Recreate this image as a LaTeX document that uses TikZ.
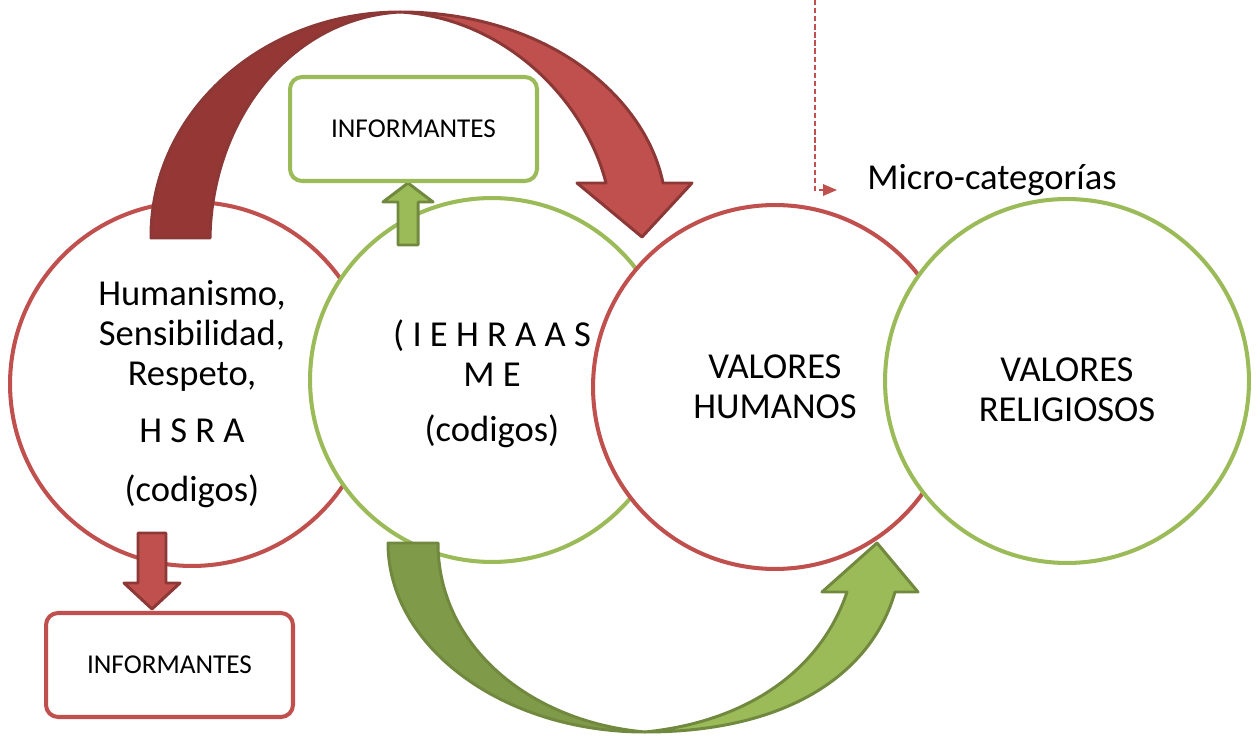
\documentclass[tikz,border=0pt]{standalone}
\usepackage{fontspec}
\setmainfont{Carlito}
\usetikzlibrary{positioning}
\usetikzlibrary {arrows.meta}
\definecolor{ringred}{HTML}{C0504D}
\definecolor{ringgreen}{HTML}{9BBB59}
\definecolor{darkred}{HTML}{953735}
\definecolor{rededge}{HTML}{8C3836}
\definecolor{darkgreen}{HTML}{7F9A48}
\definecolor{greenedge}{HTML}{71893F}
\tikzset{valring/.style={circle,fill=white,line width=2.3pt,
inner sep=0pt,minimum size=7.28cm,align=center,
font=\fontsize{20.8}{22.7}\selectfont}}
\tikzset{infobox/.style={rectangle,rounded corners=0.24cm,fill=white,line width=2.3pt,
inner sep=2pt,minimum height=2.08cm,minimum width=4.94cm,
font=\fontsize{15.5}{18}\selectfont}}
\tikzset{bandred/.style={draw=rededge,line width=1.7pt,line join=round}}
\tikzset{bandgreen/.style={draw=greenedge,line width=1.7pt,line join=round}}

\begin{document}
\begin{tikzpicture}[x=0.02cm,y=-0.02cm]
        \useasboundingbox (0,0) rectangle (1260,736);

        \node[valring,draw=ringred] (ringA) at (192,384) {\rule{0pt}{26pt}Humanismo,\\ Sensibilidad,\\ Respeto,\\[10pt] H S R A\\[11pt] (codigos)};
        \node[valring,draw=ringgreen] (ringB) at (492,380) {\rule{0pt}{19.6pt}( I E H R A A S\\ M E\\[8.5pt] (codigos)};
        \node[valring,draw=ringred] (ringC) at (775,387) {VALORES\\ HUMANOS};
        \node[valring,draw=ringgreen] (ringD) at (1067,381) {\rule{0pt}{23.4pt}VALORES\\ RELIGIOSOS};

        % upper curved arrow
        \draw[bandred,fill=darkred] (151,238) .. controls (150,113) and (262,12) .. (400,12)
            .. controls (290,18) and (212,120) .. (210,238) -- cycle;
        \draw[bandred,fill=ringred] (400,12) .. controls (545,12) and (645,95) .. (663,183)
            -- (692,183) -- (642,237) -- (577,183) -- (606,183)
            .. controls (585,100) and (505,18) .. (400,12) -- cycle;

        % lower curved arrow
        \draw[bandgreen,fill=darkgreen] (388,543) .. controls (388,647) and (503,732) .. (645,732)
            .. controls (531,722) and (438,647) .. (438,543) -- cycle;
        \draw[bandgreen,fill=ringgreen] (645,732) .. controls (790,732) and (872,672) .. (895,592)
            -- (918,592) -- (877,543) -- (822,592) -- (847,592)
            .. controls (820,672) and (745,722) .. (645,732) -- cycle;

        % small arrows
        \draw[bandgreen,fill=ringgreen] (398,245) -- (398,202) -- (383,202) -- (408,183)
            -- (433,202) -- (418,202) -- (418,245) -- cycle;
        \draw[bandred,fill=ringred] (138,533) -- (138,583) -- (124,583) -- (152,609)
            -- (180,583) -- (166,583) -- (166,533) -- cycle;

        \node[infobox,draw=ringgreen] (infoB) at (413.5,129) {INFORMANTES};
        \node[infobox,draw=ringred] (infoA) at (169.5,665) {INFORMANTES};

        \coordinate (dashtop) at (815,0);
        \coordinate (dashend) at (837,190);
        \node[inner sep=0pt,font=\fontsize{20.8}{22.7}\selectfont,right=0.6cm of dashend,anchor=base west] (micro) {Micro-categorías};
        \draw[ringred,line width=0.9pt,dash pattern=on 3pt off 1.6pt,-{Triangle[length=2.8mm,width=2.3mm]}] (dashtop) |- (dashend);

\end{tikzpicture}
\end{document}
